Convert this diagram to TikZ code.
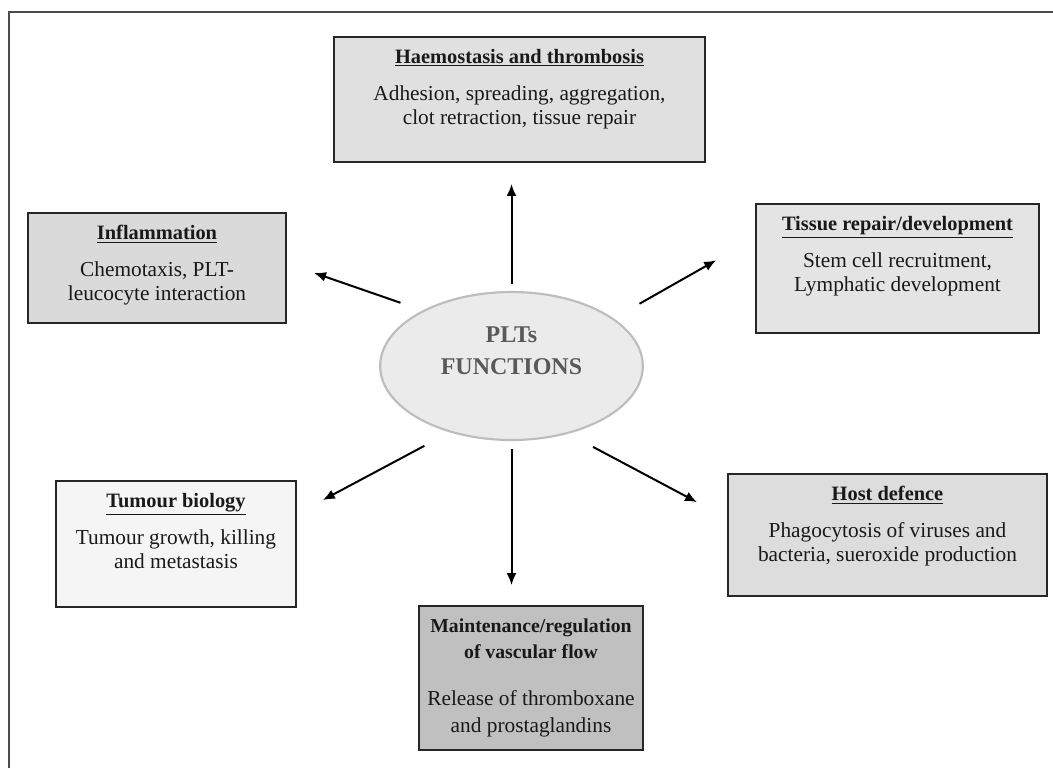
\documentclass[tikz,border=0pt]{standalone}
\usepackage{fontspec}
\setmainfont{Liberation Serif}
\usetikzlibrary{shapes.geometric,arrows.meta}
\definecolor{haemfill}{HTML}{E0E0E0}
\definecolor{inflfill}{HTML}{DADADA}
\definecolor{tisfill}{HTML}{E4E4E4}
\definecolor{tumfill}{HTML}{F5F5F5}
\definecolor{hostfill}{HTML}{DDDDDD}
\definecolor{vascfill}{HTML}{C0C0C0}
\definecolor{pltfill}{HTML}{EBEBEB}
\definecolor{pltedge}{HTML}{BDBDBD}
\definecolor{pltink}{HTML}{595959}
\newcommand{\headfont}{\fontsize{15.3}{17.5}\bfseries}
\newcommand{\boxtext}[4]{\parbox[c][#2][t]{#1}{\centering\vspace*{9.4pt}{\headfont\underline{#3}}\\[10.25pt]#4}}
\begin{document}
\begin{tikzpicture}[x=0.75pt,y=-0.75pt,
  panel/.style={draw=black!85, line width=1.4pt, inner sep=0pt, text=black!90, font=\fontsize{16}{17.5}\selectfont},
  arr/.style={-{Latex[length=9pt,width=7.5pt]}, line width=1.5pt}]
  \useasboundingbox (0,0) rectangle (1053,768);
  \draw[line width=1.5pt, black!70] (9,768) -- (9,12) -- (1053,12);
  % centre
  \node[ellipse, draw=pltedge, line width=1.6pt, fill=pltfill, minimum width=197pt, minimum height=111pt] (plt) at (511.5,366) {};
  \node[font=\fontsize{18}{24}\selectfont\bfseries, text=pltink, align=center] (pltname) at (511.5,351) {PLTs\\FUNCTIONS};
  % functions
  \node[panel, fill=haemfill] (haem) at (519.5,99.5) {\boxtext{278.25pt}{93.75pt}{Haemostasis and thrombosis}{Adhesion, spreading, aggregation,\\clot retraction, tissue repair}};
  \node[panel, fill=inflfill] (infl) at (157,268) {\boxtext{193.5pt}{82.5pt}{Inflammation}{Chemotaxis, PLT-\\leucocyte interaction}};
  \node[panel, fill=tisfill] (tis) at (897.5,268.5) {\boxtext{212.25pt}{96.75pt}{Tissue repair/development}{Stem cell recruitment,\\Lymphatic development}};
  \node[panel, fill=tumfill] (tum) at (176,544) {\boxtext{180pt}{94.5pt}{Tumour biology}{Tumour growth, killing\\and metastasis}};
  \node[panel, fill=hostfill] (host) at (887.5,535) {\boxtext{239.25pt}{91.5pt}{Host defence}{Phagocytosis of viruses and\\bacteria, sueroxide production}};
  \node[panel, fill=vascfill, font=\fontsize{16}{20}\selectfont] (vasc) at (531,678) {\parbox[c][108pt][t]{168pt}{\centering\vspace*{9.4pt}{\fontsize{14.8}{20}\bfseries Maintenance/regulation\\of vascular flow}\\[15pt]Release of thromboxane\\and prostaglandins}};
  % arrows
  \draw[arr, shorten <=5.25pt, shorten >=15.75pt] (plt.north) -- (plt.north |- haem.south);
  \draw[arr, shorten <=17.5pt, shorten >=21.5pt] (plt.148) -- (infl.2);
  \draw[arr, shorten <=22.2pt, shorten >=33.5pt] (plt.25) -- (tis.168);
  \draw[arr, shorten <=21.5pt, shorten >=22pt] (plt.227) -- (tum.14);
  \draw[arr, shorten <=6pt, shorten >=15pt] (plt.south) -- (plt.south |- vasc.north);
  \draw[arr, shorten <=21pt, shorten >=25.5pt] (plt.310) -- (host.174);
\end{tikzpicture}
\end{document}
